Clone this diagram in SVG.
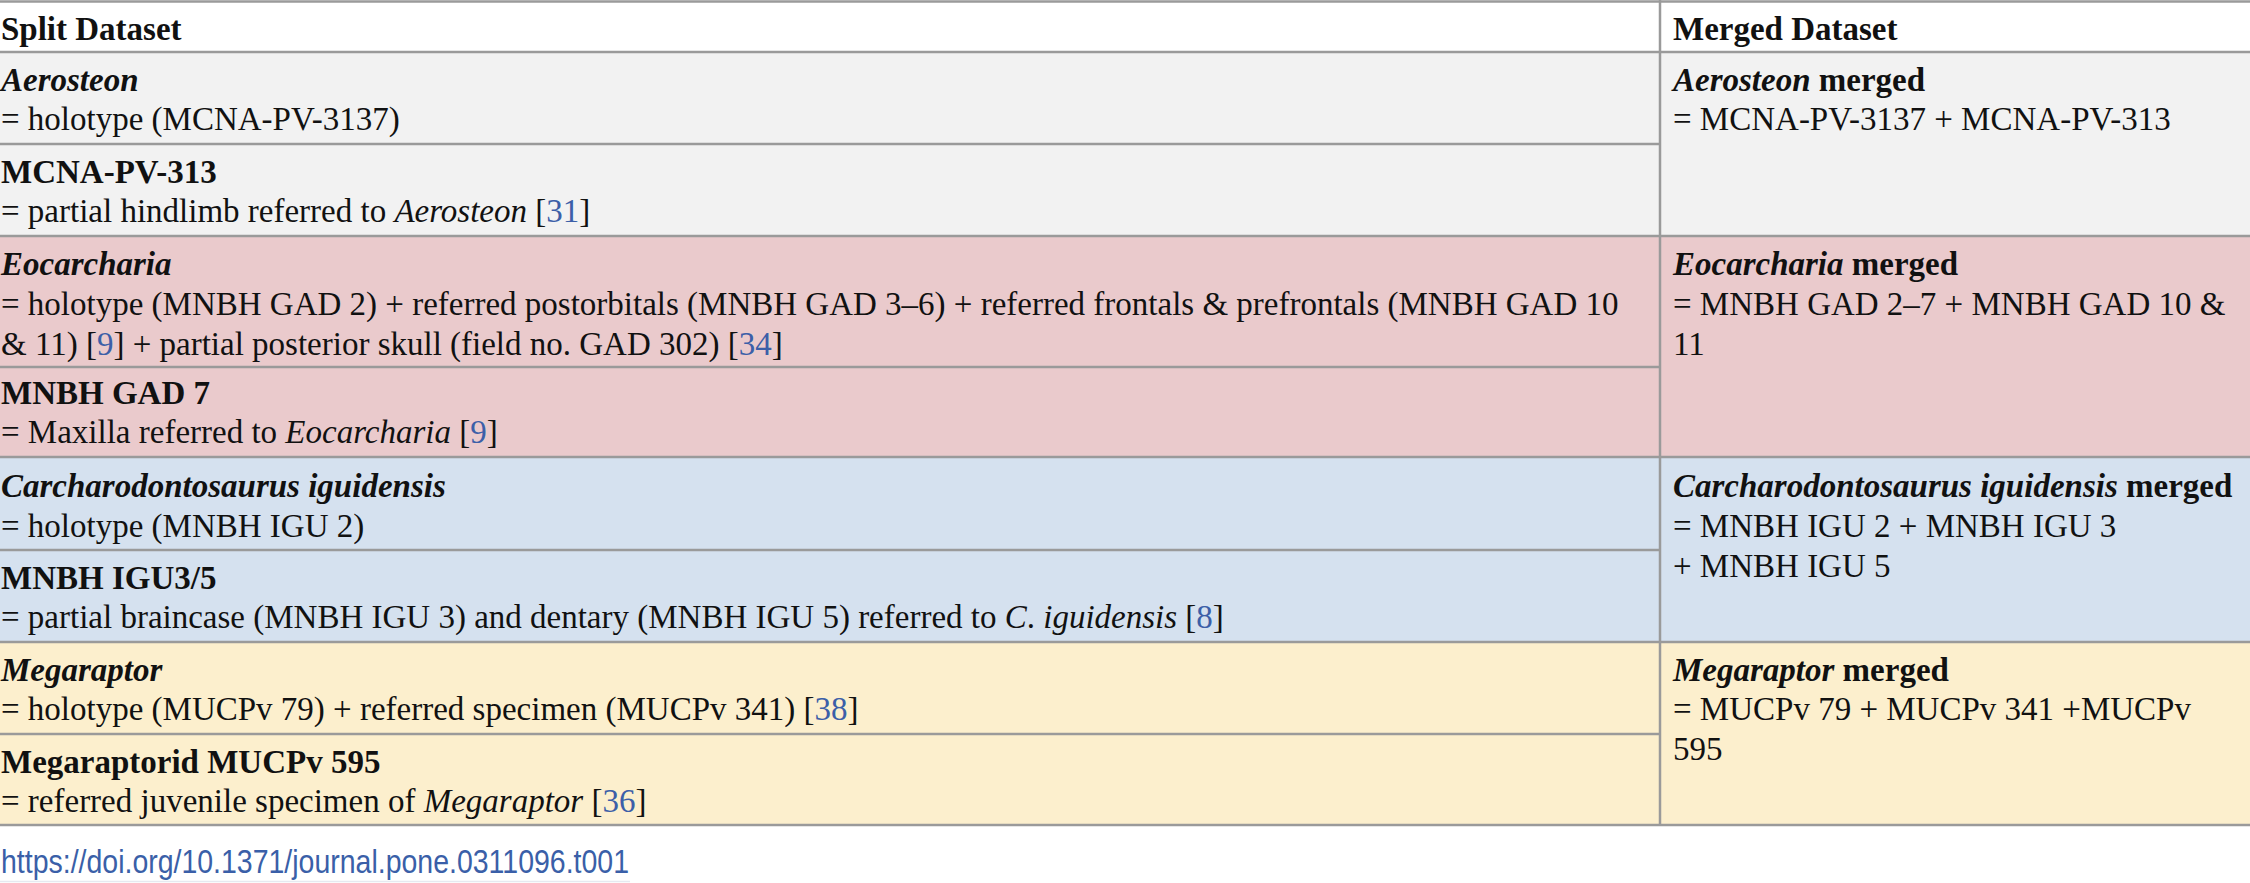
<svg xmlns="http://www.w3.org/2000/svg" width="2250" height="883" viewBox="0 0 2250 883">
<style>
text{font-family:"Liberation Serif","Times New Roman",serif;font-size:33px;fill:#111}
.b{font-weight:bold}
.i{font-style:italic}
.ref{fill:#3c5fa8}
.ln{stroke:#9a9a9a;stroke-width:2.5;fill:none}
.doi{font-family:"Liberation Sans",Arial,sans-serif;font-size:34px;fill:#3a5fa8}
</style>
<g id="backgrounds">
<rect x="0" y="0" width="2250" height="52" fill="#ffffff"/>
<rect x="0" y="52" width="2250" height="184" fill="#f2f2f2"/>
<rect x="0" y="236" width="2250" height="221" fill="#eacacc"/>
<rect x="0" y="457" width="2250" height="185" fill="#d5e1ef"/>
<rect x="0" y="642" width="2250" height="183" fill="#fcefcd"/>
</g>
<g id="connectors">
<line class="ln" x1="0" y1="1.5" x2="2250" y2="1.5"/>
<line class="ln" x1="0" y1="52" x2="2250" y2="52"/>
<line class="ln" x1="0" y1="144" x2="1660" y2="144"/>
<line class="ln" x1="0" y1="236" x2="2250" y2="236"/>
<line class="ln" x1="0" y1="367" x2="1660" y2="367"/>
<line class="ln" x1="0" y1="457" x2="2250" y2="457"/>
<line class="ln" x1="0" y1="550" x2="1660" y2="550"/>
<line class="ln" x1="0" y1="642" x2="2250" y2="642"/>
<line class="ln" x1="0" y1="734" x2="1660" y2="734"/>
<line class="ln" x1="0" y1="825" x2="2250" y2="825"/>
<line class="ln" x1="1660" y1="0" x2="1660" y2="825"/>
</g>
<g id="header-split"><text x="1" y="40" class="b">Split Dataset</text></g>
<g id="header-merged"><text x="1673" y="40" class="b">Merged Dataset</text></g>
<g id="aerosteon">
<text x="1" y="91" class="b i">Aerosteon</text>
<text x="1" y="130">= holotype (MCNA-PV-3137)</text>
</g>
<g id="mcna-pv-313">
<text x="1" y="183" class="b">MCNA-PV-313</text>
<text x="1" y="222">= partial hindlimb referred to <tspan class="i">Aerosteon</tspan> [<tspan class="ref">31</tspan>]</text>
</g>
<g id="aerosteon-merged">
<text x="1673" y="91" class="b"><tspan class="i">Aerosteon</tspan> merged</text>
<text x="1673" y="130">= MCNA-PV-3137 + MCNA-PV-313</text>
</g>
<g id="eocarcharia">
<text x="1" y="275" class="b i">Eocarcharia</text>
<text x="1" y="315">= holotype (MNBH GAD 2) + referred postorbitals (MNBH GAD 3–6) + referred frontals &amp; prefrontals (MNBH GAD 10</text>
<text x="1" y="355">&amp; 11) [<tspan class="ref">9</tspan>] + partial posterior skull (field no. GAD 302) [<tspan class="ref">34</tspan>]</text>
</g>
<g id="mnbh-gad-7">
<text x="1" y="404" class="b">MNBH GAD 7</text>
<text x="1" y="443">= Maxilla referred to <tspan class="i">Eocarcharia</tspan> [<tspan class="ref">9</tspan>]</text>
</g>
<g id="eocarcharia-merged">
<text x="1673" y="275" class="b"><tspan class="i">Eocarcharia</tspan> merged</text>
<text x="1673" y="315">= MNBH GAD 2–7 + MNBH GAD 10 &amp;</text>
<text x="1673" y="355">11</text>
</g>
<g id="carcharodontosaurus">
<text x="1" y="497" class="b i">Carcharodontosaurus iguidensis</text>
<text x="1" y="537">= holotype (MNBH IGU 2)</text>
</g>
<g id="mnbh-igu-3-5">
<text x="1" y="589" class="b">MNBH IGU3/5</text>
<text x="1" y="628">= partial braincase (MNBH IGU 3) and dentary (MNBH IGU 5) referred to <tspan class="i">C</tspan>. <tspan class="i">iguidensis</tspan> [<tspan class="ref">8</tspan>]</text>
</g>
<g id="carcharodontosaurus-merged">
<text x="1673" y="497" class="b"><tspan class="i">Carcharodontosaurus iguidensis</tspan> merged</text>
<text x="1673" y="537">= MNBH IGU 2 + MNBH IGU 3</text>
<text x="1673" y="577">+ MNBH IGU 5</text>
</g>
<g id="megaraptor">
<text x="1" y="681" class="b i">Megaraptor</text>
<text x="1" y="720">= holotype (MUCPv 79) + referred specimen (MUCPv 341) [<tspan class="ref">38</tspan>]</text>
</g>
<g id="mucpv-595">
<text x="1" y="773" class="b">Megaraptorid MUCPv 595</text>
<text x="1" y="812">= referred juvenile specimen of <tspan class="i">Megaraptor</tspan> [<tspan class="ref">36</tspan>]</text>
</g>
<g id="megaraptor-merged">
<text x="1673" y="681" class="b"><tspan class="i">Megaraptor</tspan> merged</text>
<text x="1673" y="720">= MUCPv 79 + MUCPv 341 +MUCPv</text>
<text x="1673" y="760">595</text>
</g>
<g id="doi">
<text x="1" y="873" class="doi" textLength="628" lengthAdjust="spacingAndGlyphs">https://doi.org/10.1371/journal.pone.0311096.t001</text>
<line x1="0" y1="881.5" x2="630" y2="881.5" stroke="#e6e9f0" stroke-width="1.5"/>
</g>
</svg>
